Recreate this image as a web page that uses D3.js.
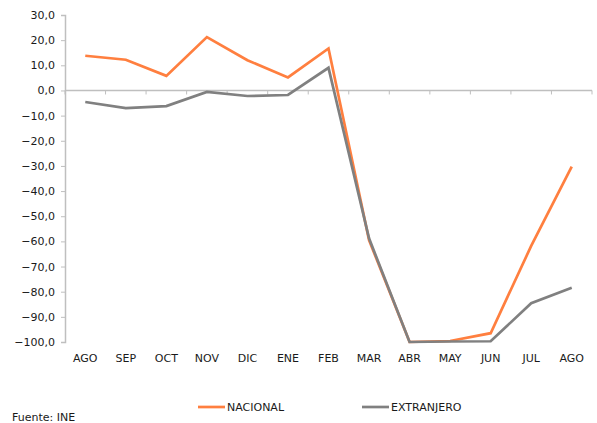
<!DOCTYPE html>
<html>
<head>
<meta charset="utf-8">
<script src="https://cdn.jsdelivr.net/npm/d3@7"></script>
<style>
body { margin: 0; background: #fff; }
text { font-family: "DejaVu Sans", Verdana, sans-serif; }
</style>
</head>
<body>
<div id="chart"></div>
<script>
var meses = ['AGO','SEP','OCT','NOV','DIC','ENE','FEB','MAR','ABR','MAY','JUN','JUL','AGO'];
var nacional = [13.8, 12.2, 5.8, 21.2, 12.0, 5.2, 16.7, -59.5, -100.0, -99.6, -96.5, -61.8, -30.3];
var extranjero = [-4.6, -7.0, -6.2, -0.6, -2.2, -1.8, 9.0, -58.8, -100.0, -99.8, -99.7, -84.6, -78.4];
var yTicks = [30,20,10,0,-10,-20,-30,-40,-50,-60,-70,-80,-90,-100];
var series = ['NACIONAL', 'EXTRANJERO'];
var colores = ['#ff7f3f', '#808080'];

var width = 597, height = 423;
var svg = d3.select("#chart").append("svg")
    .attr("width", width)
    .attr("height", height);

var x = d3.scaleBand()
    .domain(d3.range(meses.length))
    .range([65, 592]);

var y = d3.scaleLinear()
    .domain([-100, 30])
    .range([342, 15]);

// eje y
var yAxis = svg.append("g")
    .attr("transform", "translate(65,0)")
    .call(d3.axisLeft(y).tickValues(yTicks).tickSizeOuter(0).tickSize(4).tickPadding(6)
        .tickFormat(function(d){ return d3.format(".1f")(d).replace(".", ","); }));
yAxis.select(".domain").attr("stroke", "#bfbfbf").attr("stroke-width", 1.5);
yAxis.selectAll(".tick line").attr("stroke", "#bfbfbf");
yAxis.selectAll("text").attr("font-size", "11px").attr("fill", "#1a1a1a")
    .style("font-family", '"DejaVu Sans", Verdana, sans-serif');

// eje x en 0
var xAxis = svg.append("g")
    .attr("transform", "translate(0," + y(0) + ")");
xAxis.append("line")
    .attr("x1", x.range()[0]).attr("x2", x.range()[1])
    .attr("stroke", "#bfbfbf").attr("stroke-width", 1.5);
xAxis.selectAll("line.tk")
    .data(d3.range(meses.length + 1))
    .enter().append("line")
    .attr("class", "tk")
    .attr("x1", function(d){ return x.range()[0] + d * x.step(); })
    .attr("x2", function(d){ return x.range()[0] + d * x.step(); })
    .attr("y1", 0).attr("y2", 4)
    .attr("stroke", "#bfbfbf");

// etiquetas abajo
svg.selectAll("text.mes")
    .data(meses)
    .enter().append("text")
    .attr("class", "mes")
    .attr("x", function(d, i){ return x(i) + x.bandwidth() / 2; })
    .attr("y", 362)
    .attr("text-anchor", "middle")
    .attr("font-size", "11px")
    .attr("fill", "#1a1a1a")
    .text(function(d){ return d; });

var line = d3.line()
    .x(function(d, i){ return x(i) + x.bandwidth() / 2; })
    .y(function(d){ return y(d); });

svg.append("path")
    .datum(nacional)
    .attr("fill", "none")
    .attr("stroke", colores[0])
    .attr("stroke-width", 2.7)
    .attr("stroke-linejoin", "miter")
    .attr("d", line);

svg.append("path")
    .datum(extranjero)
    .attr("fill", "none")
    .attr("stroke", colores[1])
    .attr("stroke-width", 2.7)
    .attr("stroke-linejoin", "miter")
    .attr("d", line);

// leyenda
var legX = [198, 362];
var leg = svg.selectAll("g.leg")
    .data(series)
    .enter().append("g")
    .attr("class", "leg")
    .attr("transform", function(d, i){ return "translate(" + legX[i] + ",407)"; });
leg.append("line")
    .attr("x1", 0).attr("x2", 27)
    .attr("stroke", function(d, i){ return colores[i]; })
    .attr("stroke-width", 2.7);
leg.append("text")
    .attr("x", 29)
    .attr("y", 4)
    .attr("font-size", "11px")
    .attr("fill", "#1a1a1a")
    .text(function(d){ return d; });

svg.append("text")
    .attr("x", 12)
    .attr("y", 421)
    .attr("font-size", "11px")
    .attr("fill", "#1a1a1a")
    .text("Fuente: INE");
</script>
</body>
</html>
